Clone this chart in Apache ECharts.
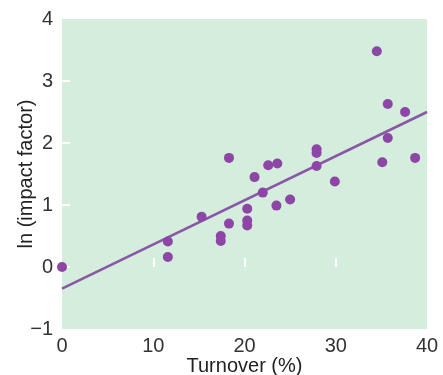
<!DOCTYPE html>
<html><head><meta charset="utf-8">
<script src="https://cdn.jsdelivr.net/npm/echarts@6/dist/echarts.min.js"></script>
<style>html,body{margin:0;padding:0;background:#fff}#c{width:443px;height:375px}</style>
</head><body><div id="c"></div>
<script>
const turnover = [0, 11.6, 11.6, 15.3, 17.4, 17.4, 18.3, 18.3, 20.3, 20.3, 20.3, 21.1, 22.0, 22.6, 23.6, 23.5, 25.0, 27.9, 27.9, 27.9, 29.9, 34.5, 35.7, 37.6, 35.7, 35.1, 38.7];
const lnImpact = [0.0, 0.41, 0.16, 0.81, 0.50, 0.42, 1.76, 0.70, 0.94, 0.75, 0.67, 1.45, 1.20, 1.64, 1.67, 0.99, 1.09, 1.90, 1.84, 1.63, 1.38, 3.48, 2.63, 2.50, 2.08, 1.69, 1.76];
const fitX = [0, 40];
const fitY = [-0.35, 2.50];
const xTicks = [0, 10, 20, 30, 40];
const yTicks = [-1, 0, 1, 2, 3, 4];

const chart = echarts.init(document.getElementById('c'));
const font = 'Liberation Sans, Arial, sans-serif';
chart.setOption({
  animation: false,
  grid: {left: 62, right: 16, top: 19, bottom: 46, show: true, backgroundColor: '#d4eddc', borderWidth: 0,
         containLabel: false, outerBoundsMode: 'none'},
  xAxis: {
    type: 'value', min: 0, max: 40, interval: 10,
    name: 'Turnover (%)', nameLocation: 'middle', nameGap: 27, nameMoveOverlap: false,
    nameTextStyle: {fontFamily: font, fontSize: 20, color: '#222'},
    axisLine: {show: false}, splitLine: {show: false},
    axisTick: {show: true, inside: true, length: 9, lineStyle: {color: '#ffffff', width: 2}, customValues: [10, 20, 30]},
    axisLabel: {fontFamily: font, fontSize: 20, color: '#333', margin: 7, customValues: xTicks}
  },
  yAxis: {
    type: 'value', min: -1, max: 4, interval: 1,
    name: 'ln (impact factor)', nameLocation: 'middle', nameGap: 26, nameRotate: 90, nameMoveOverlap: false,
    nameTextStyle: {fontFamily: font, fontSize: 20, color: '#222'},
    axisLine: {show: false}, splitLine: {show: false},
    axisTick: {show: true, inside: true, length: 8, lineStyle: {color: '#ffffff', width: 2}, customValues: [0, 1, 2, 3]},
    axisLabel: {fontFamily: font, fontSize: 20, color: '#333', margin: 9, customValues: yTicks,
      formatter: v => v < 0 ? '\u2212' + Math.abs(v) : String(v)}
  },
  series: [
    {type: 'line', data: fitX.map((x, i) => [x, fitY[i]]), symbol: 'none', silent: true,
     lineStyle: {color: '#8a57a6', width: 2.5}, z: 2},
    {type: 'scatter', data: turnover.map((x, i) => [x, lnImpact[i]]), symbolSize: 10,
     itemStyle: {color: '#8d45a6', opacity: 1}, z: 3}
  ]
});
</script></body></html>
